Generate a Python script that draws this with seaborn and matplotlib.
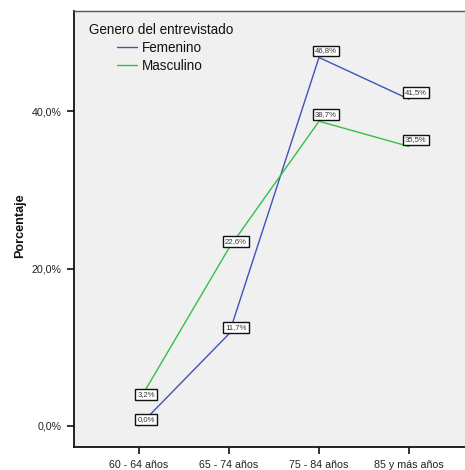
import matplotlib
matplotlib.use("Agg")
import matplotlib.pyplot as plt
import matplotlib.ticker as mticker
import seaborn as sns
import pandas as pd

# Age groups and percentage of respondents per gender
edades = ["60 - 64 años", "65 - 74 años", "75 - 84 años", "85 y más años"]
femenino = [0.0, 11.7, 46.8, 41.5]
masculino = [3.2, 22.6, 38.7, 35.5]
generos = ["Femenino", "Masculino"]
colores = {"Femenino": "#3d54b8", "Masculino": "#36bf48"}

df = pd.DataFrame({
    "edad": edades * 2,
    "pct": femenino + masculino,
    "genero": [generos[0]] * len(edades) + [generos[1]] * len(edades),
})

sns.set_theme(style="white")
plt.rcParams["font.family"] = ["Liberation Sans", "DejaVu Sans"]

W, H = 465, 470
fig = plt.figure(figsize=(W / 100, H / 100), dpi=100)
ax = fig.add_axes([74 / W, 1 - 447 / H, (W - 74) / W, 436 / H])
ax.set_facecolor("#f0f0f0")

sns.lineplot(data=df, x="edad", y="pct", hue="genero", palette=colores,
             sort=False, linewidth=1.0, legend=False, ax=ax)

ax.set_xlim(-0.722, 3.622)
ax.set_ylim(-2.667, 52.70)
ax.set_yticks([0, 20, 40])
ax.yaxis.set_major_formatter(mticker.FuncFormatter(
    lambda v, p: f"{v:.1f}%".replace(".", ",")))
ax.set_xticks(range(len(edades)))
ax.set_xticklabels(edades)

ax.tick_params(axis="both", which="major", direction="out", length=5,
               width=1.2, color="#111111", labelsize=7.7, labelcolor="#222222",
               bottom=True, left=True, pad=4)
ax.set_xlabel("")
ax.set_ylabel("Porcentaje", fontsize=9.1, fontweight="bold", color="#111111")
ax.yaxis.set_label_coords(26 / W, 1 - 226 / H, transform=fig.transFigure)

for side in ["left", "bottom"]:
    ax.spines[side].set_color("#111111")
    ax.spines[side].set_linewidth(1.3)
ax.spines["top"].set_color("#555555")
ax.spines["top"].set_linewidth(1.0)
ax.spines["right"].set_visible(False)

# Value labels in small boxes, just above and right of each point
for serie in (femenino, masculino):
    for i, v in enumerate(serie):
        ax.annotate(f"{v:.1f}%".replace(".", ","), xy=(i, v),
                    xytext=(7, 6.5), textcoords="offset pixels",
                    ha="center", va="center", fontsize=5.6, color="#333333",
                    bbox=dict(boxstyle="square,pad=0.25", fc="white",
                              ec="#111111", lw=1.0), zorder=5)

# Legend: title on its own, entries indented below it
fig.text(89 / W, 1 - 30 / H, "Genero del entrevistado", fontsize=9.75,
         color="#111111", ha="left", va="center")
handles = [plt.Line2D([], [], color=colores[g], lw=1.0) for g in generos]
leg = ax.legend(handles, generos, loc="upper left",
                bbox_to_anchor=(117 / W, 1 - 41 / H),
                bbox_transform=fig.transFigure, frameon=False,
                fontsize=9.75, borderpad=0, borderaxespad=0,
                handlelength=1.48, handletextpad=0.37, labelspacing=0.3)
for t in leg.get_texts():
    t.set_color("#111111")

fig.savefig("out.png", dpi=100, facecolor="white")
